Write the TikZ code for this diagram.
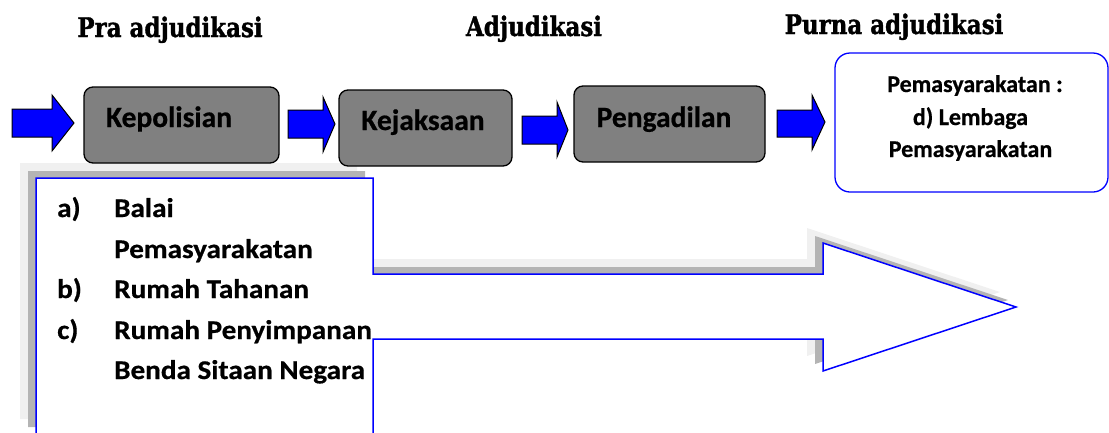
\documentclass[tikz,border=0pt]{standalone}
\usepackage{fontspec}
\setmainfont{Carlito}[BoldFont={Carlito Bold}]
\newfontfamily\labelfont{Carlito Bold}[FakeBold=0.6]
\newfontfamily\listfont{Carlito Bold}[FakeStretch=1.08, FakeBold=0.6]
\newfontfamily\headfont{DejaVu Serif Bold}[FakeStretch=0.85, FakeBold=1.2]
\definecolor{boxgray}{HTML}{808080}
\definecolor{arrowblue}{HTML}{0000FF}
\definecolor{shadowdark}{HTML}{B4B4B4}
\definecolor{shadowlight}{HTML}{F0F0F0}
\begin{document}
\begin{tikzpicture}[x=1pt,y=-1pt,
  heading/.style={font=\headfont\fontsize{27}{32}\selectfont, anchor=base, inner sep=0pt},
  stagebox/.style={draw=black, line width=1.3pt, fill=boxgray, rounded corners=9pt, inner sep=0pt},
  stagelabel/.style={font=\labelfont\fontsize{29.5}{34}\selectfont, anchor=base, inner sep=0pt},
  blockarrow/.style={draw=black, line width=1pt, fill=arrowblue, line join=miter},
  finalbox/.style={draw=arrowblue, line width=1.3pt, fill=white, rounded corners=15pt, inner sep=0pt},
  finallabel/.style={font=\labelfont\fontsize{24}{28}\selectfont, anchor=base, inner sep=0pt},
  lightshadow/.style={fill=shadowlight},
  darkshadow/.style={fill=shadowdark},
  bigshape/.style={fill=white, draw=arrowblue, line width=1.5pt, line join=miter},
  itemmark/.style={font=\listfont\fontsize{27}{32}\selectfont, anchor=base west, inner sep=0pt},
  itemtext/.style={font=\listfont\fontsize{27}{32}\selectfont, anchor=base west, inner sep=0pt}]
\useasboundingbox (0,0) rectangle (1109,432);
\clip (0,0) rectangle (1109,432);

% stage headings
\node[heading] (hpra) at (170,37) {Pra adjudikasi};
\node[heading] (hadj) at (534,36) {Adjudikasi};
\node[heading] (hpurna) at (894,34) {Purna adjudikasi};

% large hollow arrow with its two-step shadow
\foreach \dx/\dy/\sty in {-16/-15/lightshadow, -8/-7/darkshadow, 0/0/bigshape}
  \path[\sty, shift={(\dx,\dy)}]
    (36,434) -- (36,178) -- (373,178) -- (373,274) -- (823,274) -- (823,243)
    -- (1016,307) -- (823,371) -- (823,339) -- (373,339) -- (373,434) -- cycle;

% list inside the large arrow
\node[itemmark] (ma) at (57,217) {a)};
\node[itemtext] (ta1) at (114,217) {Balai};
\node[itemtext] (ta2) at (114,258) {Pemasyarakatan};
\node[itemmark] (mb) at (57,298) {b)};
\node[itemtext] (tb) at (114,298) {Rumah Tahanan};
\node[itemmark] (mc) at (57,339) {c)};
\node[itemtext] (tc1) at (114,339) {Rumah Penyimpanan};
\node[itemtext] (tc2) at (114,379) {Benda Sitaan Negara};

% stage boxes
\node[stagebox, minimum width=195pt, minimum height=76pt] (kep) at (181.5,125) {};
\node[stagelabel] (kepl) at (169,127) {Kepolisian};
\node[stagebox, minimum width=173pt, minimum height=76pt] (kej) at (425.5,128) {};
\node[stagelabel] (kejl) at (423,130) {Kejaksaan};
\node[stagebox, minimum width=191pt, minimum height=76pt] (pen) at (669.5,124) {};
\node[stagelabel] (penl) at (664,127) {Pengadilan};
\node[finalbox, minimum width=273pt, minimum height=139pt] (pem) at (971.5,122.5) {};
\node[finallabel] (pem1) at (975,92) {Pemasyarakatan :};
\node[finallabel] (pem2) at (970.5,125) {d) Lembaga};
\node[finallabel] (pem3) at (970.5,157) {Pemasyarakatan};

% blue block arrows between the stages
\draw[blockarrow] (12,109) -- (52,109) -- (52,95) -- (74,123) -- (52,151) -- (52,137) -- (12,137) -- cycle;
\draw[blockarrow] (288,110) -- (323,110) -- (323,97) -- (335,124) -- (323,152) -- (323,138) -- (288,138) -- cycle;
\draw[blockarrow] (522,116) -- (557,116) -- (557,102) -- (568,130) -- (557,157) -- (557,144) -- (522,144) -- cycle;
\draw[blockarrow] (777,110) -- (812,110) -- (812,95) -- (825,122) -- (812,150) -- (812,137) -- (777,137) -- cycle;
\end{tikzpicture}
\end{document}
